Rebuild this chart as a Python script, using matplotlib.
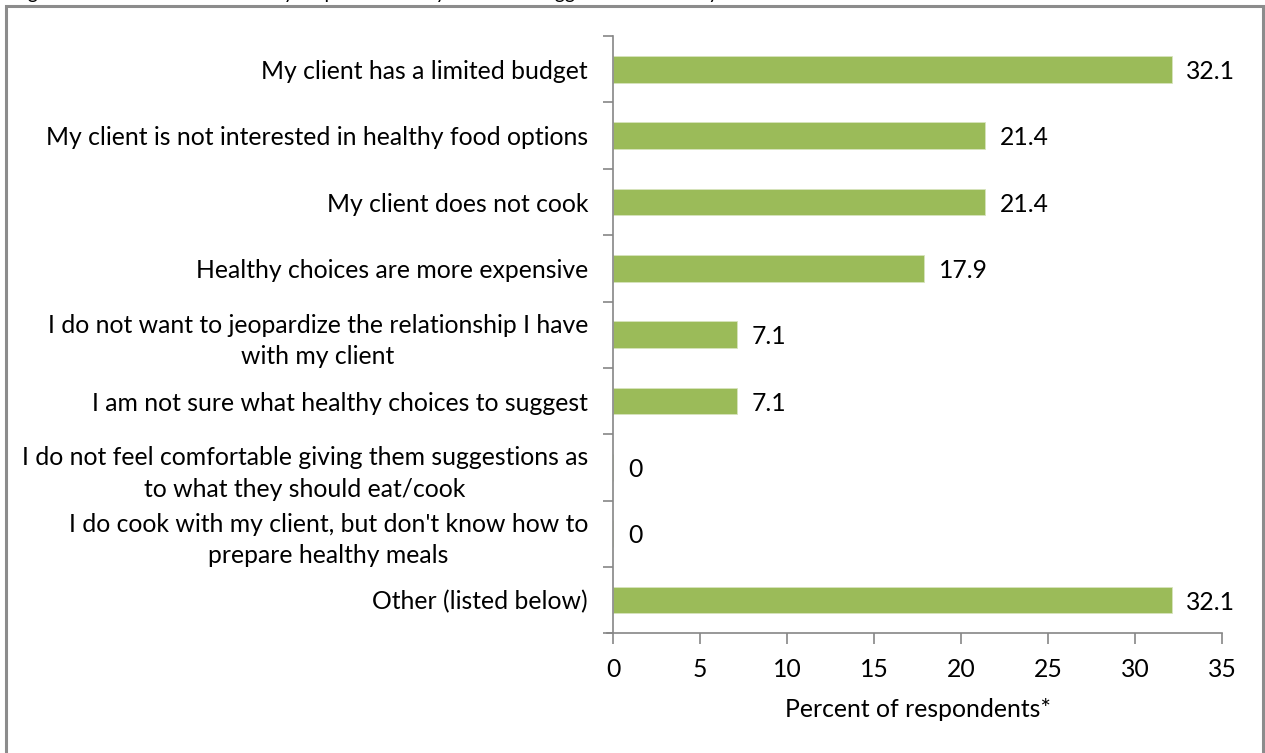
import matplotlib
matplotlib.use('Agg')
import matplotlib.pyplot as plt
from matplotlib.patches import Rectangle

plt.rcParams['font.family'] = ['Lato', 'DejaVu Sans']

reasons = [
    "My client has a limited budget",
    "My client is not interested in healthy food options",
    "My client does not cook",
    "Healthy choices are more expensive",
    "I do not want to jeopardize the relationship I have\nwith my client",
    "I am not sure what healthy choices to suggest",
    "I do not feel comfortable giving them suggestions as\nto what they should eat/cook",
    "I do cook with my client, but don't know how to\nprepare healthy meals",
    "Other (listed below)",
]
percents = [32.1, 21.4, 21.4, 17.9, 7.1, 7.1, 0, 0, 32.1]
x_ticks = [0, 5, 10, 15, 20, 25, 30, 35]

bar_color = '#9BBB59'
axis_color = '#868686'
fs = 17.8

fig = plt.figure(figsize=(12.65, 7.53), dpi=100)
ax = fig.add_axes([0.4846, 0.159, 0.4814, 0.793])

ypos = list(range(len(reasons)))
ax.barh(ypos, percents, height=0.4, color=bar_color, edgecolor='#D7E4BD', linewidth=0.6)

for y, v in zip(ypos, percents):
    ax.text(v + 0.85, y + 0.03, f"{v:g}", va='center', ha='left', fontsize=fs)

ax.set_ylim(len(reasons) - 0.5, -0.5)
ax.set_xlim(0, 35)
ax.set_xticks(x_ticks)
ax.set_xticklabels([str(t) for t in x_ticks], fontsize=fs)
ax.set_xlabel('Percent of respondents*', fontsize=fs, labelpad=12)

# category labels sit between the boundary ticks, Excel style
ax.set_yticks(ypos)
ax.set_yticklabels(reasons, fontsize=fs, multialignment='center', linespacing=1.45)
ax.tick_params(axis='y', length=0, pad=18)
ax.set_yticks([i - 0.5 for i in range(len(reasons) + 1)], minor=True)
ax.tick_params(axis='y', which='minor', length=7, color=axis_color, width=1.2)
ax.tick_params(axis='x', length=8, color=axis_color, width=1.2, pad=10)

for side in ['top', 'right']:
    ax.spines[side].set_visible(False)
for side in ['left', 'bottom']:
    ax.spines[side].set_color(axis_color)
    ax.spines[side].set_linewidth(1.2)
ax.spines['bottom'].set_bounds(-0.35, 35)

# chart frame and the caption running off the top edge
fig.patches.append(Rectangle((6 / 1265, -0.05), 1257 / 1265, 1.05 - 6 / 753,
                             transform=fig.transFigure, fill=False,
                             edgecolor='#8C8C8C', linewidth=2.2))
fig.text(12 / 1265, 1 + 1.5 / 753,
         "Figure 10: Common reasons why respondents may not often suggest more healthy foods to clients",
         fontsize=14, va='baseline', ha='left')

fig.savefig('out.png', dpi=100)
